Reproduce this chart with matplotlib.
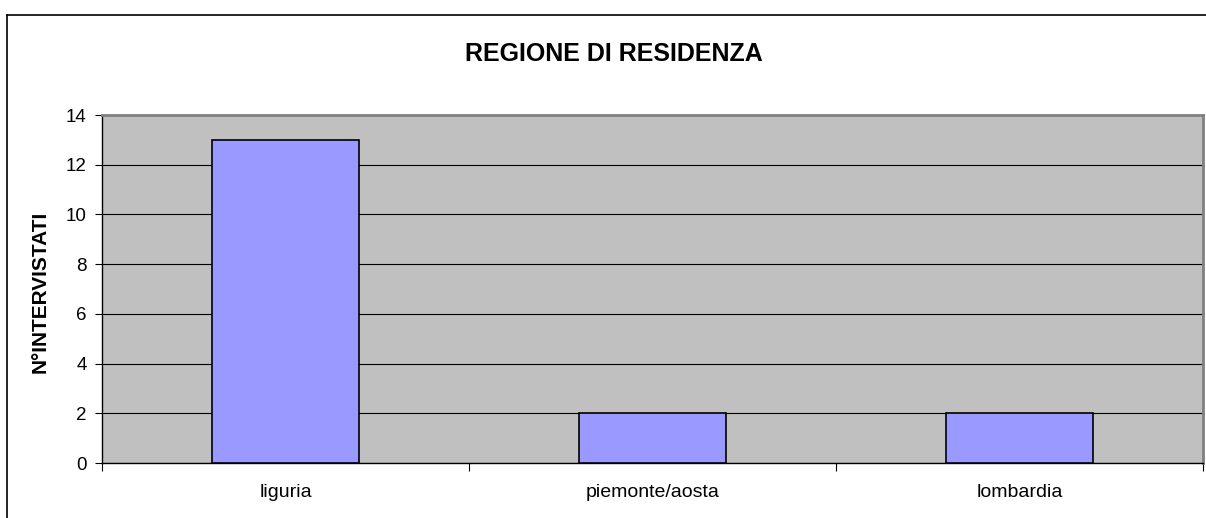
import matplotlib
matplotlib.use("Agg")
import matplotlib.pyplot as plt
from matplotlib.lines import Line2D

categories = ["liguria", "piemonte/aosta", "lombardia"]
values = [13, 2, 2]
yticks = [0, 2, 4, 6, 8, 10, 12, 14]
title = "REGIONE DI RESIDENZA"
ylabel = "N°INTERVISTATI"

plt.rcParams['font.family'] = ['Liberation Sans', 'DejaVu Sans']

W, H = 1206, 518
fig = plt.figure(figsize=(W / 100, H / 100), dpi=100)

# plot area in pixels
x0, x1, y0, y1 = 102, 1203, 115, 463
ax = fig.add_axes([x0 / W, 1 - y1 / H, (x1 - x0) / W, (y1 - y0) / H])
ax.set_facecolor("#C0C0C0")

xs = list(range(len(categories)))
ax.bar(xs, values, width=0.4, color="#9999FF", edgecolor="black", linewidth=1.2, zorder=3)
ax.set_xlim(-0.5, len(categories) - 0.5)
ax.set_ylim(0, 14)
ax.set_yticks(yticks)
ax.set_yticklabels([str(v) for v in yticks], fontsize=13.5)
ax.yaxis.grid(True, color="black", linewidth=0.8, zorder=1)
ax.set_axisbelow(True)

# category ticks at boundaries, labels at centers
ax.set_xticks([i - 0.5 for i in range(len(categories) + 1)])
ax.set_xticklabels([])
ax.set_xticks(xs, minor=True)
ax.set_xticklabels(categories, minor=True, fontsize=14)
ax.tick_params(axis="x", which="minor", length=0, pad=15)
ax.tick_params(axis="x", which="major", length=6, width=0.8, color="black", direction="out")
ax.tick_params(axis="y", length=5, width=0.8, color="black", pad=6)

for s in ["left", "bottom"]:
    ax.spines[s].set_color("black")
    ax.spines[s].set_linewidth(1.0)
for s in ["top", "right"]:
    ax.spines[s].set_color("#808080")
    ax.spines[s].set_linewidth(2.0)

ax.set_ylabel(ylabel, fontsize=15, fontweight="bold", va="center")
ax.yaxis.set_label_coords((40.5 - x0) / (x1 - x0), 1 - (291.5 - y0) / (y1 - y0))
fig.text(613.5 / W, 1 - 54 / H, title, fontsize=18, fontweight="bold", ha="center", va="center")

# outer chart frame (top and left edges visible)
fig.add_artist(Line2D([7 / W, 1.0], [1 - 15 / H, 1 - 15 / H], transform=fig.transFigure, color="black", linewidth=1.2))
fig.add_artist(Line2D([7 / W, 7 / W], [1 - 15 / H, 0], transform=fig.transFigure, color="black", linewidth=1.2))

fig.savefig("out.png", dpi=100)
